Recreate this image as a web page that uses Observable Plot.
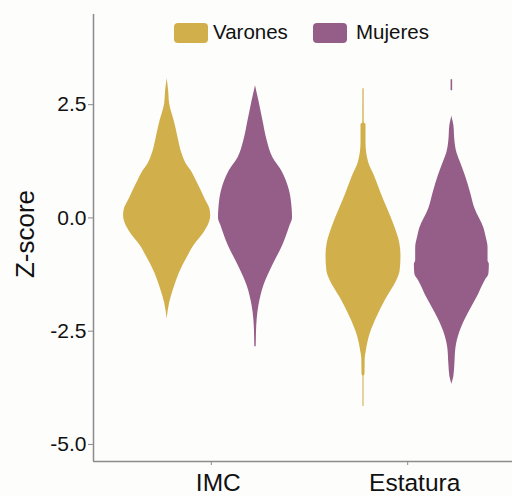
<!DOCTYPE html>
<html>
<head>
<meta charset="utf-8">
<script src="https://cdn.jsdelivr.net/npm/d3@7"></script>
<script src="https://cdn.jsdelivr.net/npm/@observablehq/plot@0.6"></script>
<style>
  body { margin: 0; background: #fdfdfc; }
  #wrap { position: relative; width: 512px; height: 496px; overflow: hidden; }
  .legend { position: absolute; left: 0; top: 0; font-family: "Liberation Sans", Arial, sans-serif; font-size: 20.5px; color: #111; }
  .sw { position: absolute; top: 23px; width: 34px; height: 20px; border-radius: 4px; }
  .lt { position: absolute; top: 22px; line-height: 20px; white-space: nowrap; }
</style>
</head>
<body>
<div id="wrap"></div>
<script>
// ---- data ----
const categories = ["IMC", "Estatura"];
const groups = ["Varones", "Mujeres"];
const colors = ["#d1af4b", "#955e88"];
const yTicks = [-5, -2.5, 0, 2.5];

// density profiles: z-score and relative width (% of widest violin)
const imcVaronesZ = [3.08, 2.81, 2.52, 2.37, 2.15, 1.77, 1.42, 1.19, 1.04, 0.82, 0.42, 0.20, 0.05, -0.10, -0.24, -0.35, -0.46, -0.62, -0.84, -1.22, -1.57, -1.88, -2.23];
const imcVaronesD = [0, 3.4, 5.7, 9.2, 16, 25, 34, 44, 55, 67, 87, 98, 100, 97, 90, 83, 74, 61, 48, 28, 15, 5.7, 0];

const imcMujeresZ = [2.92, 2.59, 2.15, 1.70, 1.33, 1.04, 0.60, 0.20, 0.0, -0.18, -0.62, -1.06, -1.50, -1.95, -2.23, -2.50, -2.83, -2.85];
const imcMujeresD = [0, 7.6, 17, 27, 40, 60, 78, 84, 85, 79, 62, 39, 19, 7.6, 3.9, 2.3, 1.6, 0];

const estVaronesZ = [2.85, 2.10, 2.06, 1.66, 1.22, 0.93, 0.55, 0.20, -0.18, -0.55, -0.84, -1.17, -1.39, -1.77, -2.21, -2.57, -2.94, -3.10, -3.45, -3.50, -4.16];
const estVaronesD = [1.4, 1.6, 5.7, 5.7, 12, 25, 40, 55, 71, 83, 86, 84, 76, 53, 30, 15, 6.4, 3.9, 3.4, 1.2, 1.2];

const estMujeresZ = [3.05, 2.81, 2.80, 2.26, 2.15, 2.04, 1.70, 1.44, 1.22, 0.93, 0.55, 0.20, -0.24, -0.40, -0.66, -0.95, -1.02, -1.24, -1.39, -1.77, -2.12, -2.50, -2.88, -3.23, -3.50, -3.67];
const estMujeresD = [1.8, 1.8, 0, 0, 2.3, 4.6, 7, 11.5, 20, 31, 43, 53, 74, 78, 83, 83, 86, 85, 76, 57, 37, 19, 9.2, 6.9, 4.6, 0];

const violins = [
  {cat: "IMC", sex: "Varones", z: imcVaronesZ, d: imcVaronesD},
  {cat: "IMC", sex: "Mujeres", z: imcMujeresZ, d: imcMujeresD},
  {cat: "Estatura", sex: "Varones", z: estVaronesZ, d: estVaronesD},
  {cat: "Estatura", sex: "Mujeres", z: estMujeresZ, d: estMujeresD}
];

const rows = violins.flatMap(v =>
  v.z.map((z, i) => ({cat: v.cat, sex: v.sex, key: v.cat + "-" + v.sex, z, d: v.d[i]}))
     .sort((a, b) => a.z - b.z)
);

const dodge = {Varones: -0.225, Mujeres: 0.225};
const halfScale = 0.222 / 100;
const cx = r => categories.indexOf(r.cat) + 1 + dodge[r.sex];

const axisGray = "#8c8c8c";
const font = "Liberation Sans, Arial, sans-serif";

const chart = Plot.plot({
  width: 512,
  height: 496,
  marginLeft: 93,
  marginRight: 0,
  marginTop: 14,
  marginBottom: 35,
  style: {background: "transparent", fontFamily: font, overflow: "visible"},
  x: {domain: [0.4, 2.6], range: [93, 525], axis: null},
  y: {domain: [-5.376, 4.49], range: [461, 14], axis: null},
  color: {domain: groups, range: colors},
  marks: [
    Plot.areaX(rows, {
      y: "z",
      x1: r => cx(r) - r.d * halfScale,
      x2: r => cx(r) + r.d * halfScale,
      z: "key",
      fill: "sex",
      curve: "monotone-y"
    }),
    Plot.ruleX([0.4], {stroke: axisGray, strokeWidth: 1.5}),
    Plot.ruleY([-5.376], {stroke: axisGray, strokeWidth: 1.5}),
    Plot.axisY({
      ticks: yTicks,
      tickFormat: d => d.toFixed(1),
      tickSize: 5,
      tickPadding: 2,
      fontSize: 21,
      stroke: axisGray,
      fill: "#111",
      label: null
    }),
    Plot.axisX({
      ticks: [1, 2],
      tickSize: 4,
      tickFormat: () => "",
      stroke: axisGray,
      label: null
    }),
    Plot.axisX({
      ticks: [1, 2],
      tickSize: 0,
      tickPadding: 12,
      tickFormat: i => categories[i - 1],
      fontSize: 24.5,
      dx: 7,
      fill: "#111",
      label: null
    }),
    Plot.text(["Z-score"], {
      frameAnchor: "left",
      text: d => d,
      textAnchor: "middle",
      rotate: -90,
      dx: -67.5,
      dy: -4,
      fontSize: 26,
      fill: "#111"
    })
  ]
});

const wrap = document.getElementById("wrap");
wrap.appendChild(chart);

// legend (overlaid at the top of the plot area)
const legend = document.createElement("div");
legend.className = "legend";
const legendPos = [{sw: 174, tx: 213}, {sw: 313, tx: 356}];
groups.forEach((g, i) => {
  const sw = document.createElement("div");
  sw.className = "sw";
  sw.style.left = legendPos[i].sw + "px";
  sw.style.background = colors[i];
  const t = document.createElement("div");
  t.className = "lt";
  t.style.left = legendPos[i].tx + "px";
  t.textContent = g;
  legend.appendChild(sw);
  legend.appendChild(t);
});
wrap.appendChild(legend);
</script>
</body>
</html>
